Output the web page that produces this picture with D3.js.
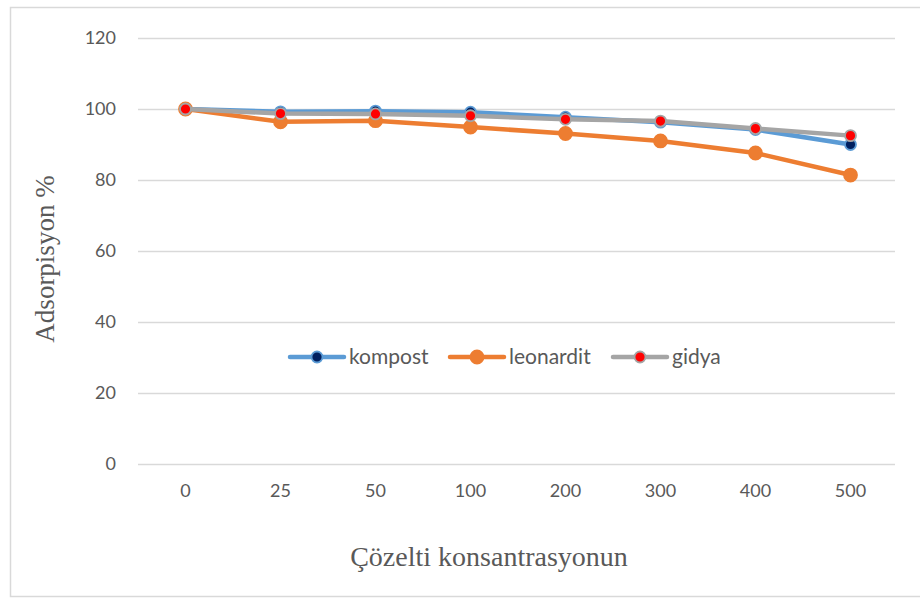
<!DOCTYPE html>
<html>
<head>
<meta charset="utf-8">
<script src="https://cdn.jsdelivr.net/npm/d3@7/dist/d3.min.js"></script>
<style>
html,body{margin:0;padding:0;background:#fff;}
svg{display:block;}
</style>
</head>
<body>
<svg id="chart" width="920" height="598"></svg>
<script>
const categories = ["0","25","50","100","200","300","400","500"];
const kompost   = [100, 99.2, 99.4, 99.1, 97.7, 96.3, 94.2, 90.0];
const leonardit = [100, 96.4, 96.7, 94.9, 93.1, 91.0, 87.6, 81.4];
const gidya     = [100, 98.7, 98.6, 98.1, 97.1, 96.6, 94.5, 92.5];
const yTicks = [0, 20, 40, 60, 80, 100, 120];
const seriesNames = ["kompost", "leonardit", "gidya"];

const series = [
  {name: seriesNames[0], values: kompost,   line: "#5B9BD5", fill: "#002060", stroke: "#5B9BD5", r: 5.5},
  {name: seriesNames[1], values: leonardit, line: "#ED7D31", fill: "#ED7D31", stroke: "#ED7D31", r: 6.5},
  {name: seriesNames[2], values: gidya,     line: "#A5A5A5", fill: "#FF0000", stroke: "#A5A5A5", r: 5.5}
];

const svg = d3.select("#chart");
const plot = {left: 138, right: 898, top: 38, bottom: 464};

// chart border
svg.append("rect").attr("x", 10.5).attr("y", 7.5).attr("width", 920).attr("height", 589)
  .attr("fill", "#fff").attr("stroke", "#D9D9D9").attr("stroke-width", 1.5);

const x = d3.scaleBand().domain(categories).range([plot.left, plot.right]);
const y = d3.scaleLinear().domain([0, 120]).range([plot.bottom, plot.top]);

// gridlines
svg.append("g").selectAll("line").data(yTicks).join("line")
  .attr("x1", plot.left).attr("x2", plot.right - 3)
  .attr("y1", d => Math.round(y(d)) + 0.5).attr("y2", d => Math.round(y(d)) + 0.5)
  .attr("stroke", "#D9D9D9").attr("stroke-width", 1.3);

// y axis labels
const yAxis = d3.axisLeft(y).tickValues(yTicks).tickSize(0).tickPadding(0);
const yg = svg.append("g").attr("transform", `translate(116,0)`).call(yAxis);
yg.select(".domain").remove();
yg.selectAll("text").attr("font-family", "Lato, 'Open Sans', sans-serif").attr("font-size", 18)
  .attr("fill", "#595959");

// x axis labels
const xAxis = d3.axisBottom(x).tickSize(0).tickPadding(0);
const xg = svg.append("g").attr("transform", `translate(0,484)`).call(xAxis);
xg.select(".domain").remove();
xg.selectAll("text").attr("font-family", "Lato, 'Open Sans', sans-serif").attr("font-size", 18)
  .attr("fill", "#595959");

const cx = c => x(c) + x.bandwidth() / 2;
const line = d3.line().x((d, i) => cx(categories[i])).y(d => y(d));

series.forEach(s => {
  const g = svg.append("g");
  g.append("path").datum(s.values).attr("d", line).attr("fill", "none")
    .attr("stroke", s.line).attr("stroke-width", 4.5).attr("stroke-linejoin", "round").attr("stroke-linecap", "round");
  g.selectAll("circle").data(s.values).join("circle")
    .attr("cx", (d, i) => cx(categories[i])).attr("cy", d => y(d)).attr("r", s.r)
    .attr("fill", s.fill).attr("stroke", s.stroke).attr("stroke-width", 1.8);
});

// legend
const legendY = 357;
const legendX = [290, 450, 613];
series.forEach((s, i) => {
  const g = svg.append("g").attr("transform", `translate(${legendX[i]},${legendY})`);
  g.append("line").attr("x1", 0).attr("x2", 54).attr("y1", 0).attr("y2", 0)
    .attr("stroke", s.line).attr("stroke-width", 4.5).attr("stroke-linecap", "round");
  g.append("circle").attr("cx", 27).attr("cy", 0).attr("r", s.r)
    .attr("fill", s.fill).attr("stroke", s.stroke).attr("stroke-width", 1.8);
  g.append("text").attr("x", 59).attr("y", 0).attr("dy", "0.35em")
    .attr("font-family", "Lato, 'Open Sans', sans-serif").attr("font-size", 21)
    .attr("fill", "#595959").text(s.name);
});

// axis titles
svg.append("text").attr("transform", "translate(54,259) rotate(-90)")
  .attr("text-anchor", "middle").attr("font-family", "'Liberation Serif', 'Times New Roman', serif")
  .attr("font-size", 27).attr("fill", "#595959").text("Adsorpisyon %");
svg.append("text").attr("x", 489).attr("y", 566)
  .attr("text-anchor", "middle").attr("font-family", "'Liberation Serif', 'Times New Roman', serif")
  .attr("font-size", 28).attr("fill", "#595959").text("Çözelti konsantrasyonun");
</script>
</body>
</html>
